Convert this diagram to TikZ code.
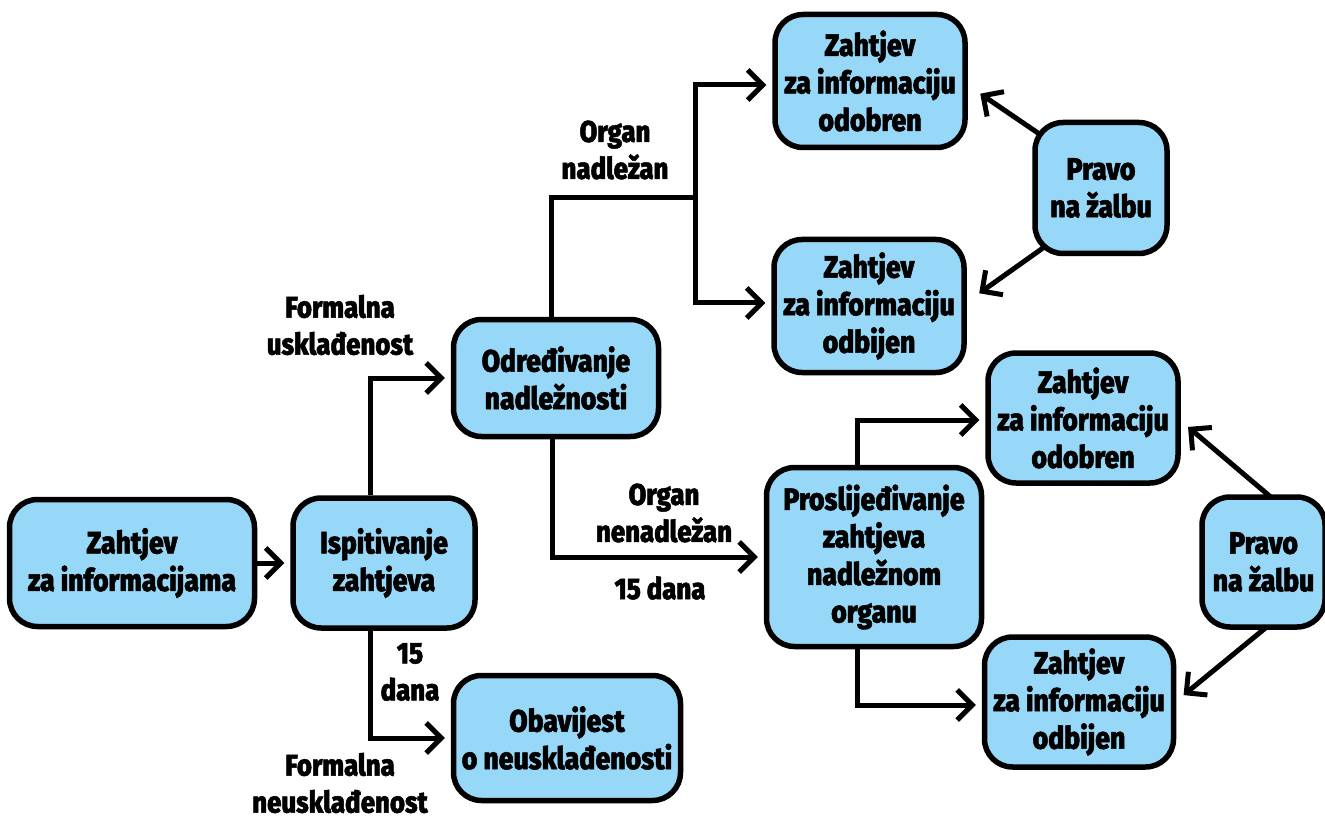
\documentclass[tikz,border=0pt]{standalone}
\usepackage{fontspec}
\newfontfamily\condfont[FakeStretch=0.86, BoldFont={Fira Sans ExtraBold}, BoldFeatures={FakeBold=1.6}]{Fira Sans}
\usetikzlibrary{arrows.meta,calc,backgrounds}
\definecolor{boxblue}{HTML}{97D7F7}
\tikzset{
  box/.style={draw=black, fill=boxblue, line width=5.5pt, rounded corners=28pt,
    align=center, inner sep=0pt,
    font=\condfont\bfseries\fontsize{31}{37.5}\selectfont},
  lbl/.style={align=center, inner sep=0pt,
    font=\condfont\bfseries\fontsize{30}{37}\selectfont},
  conn/.style={line width=5pt},
  arr/.style={line width=5pt, -{Straight Barb[length=15pt,width=30pt]}, shorten >=6pt},
}
\begin{document}
\begin{tikzpicture}[x=1pt,y=-1pt]
\useasboundingbox (0,0) rectangle (1325,818);

% process boxes
\node[box, minimum width=245pt, minimum height=127pt] (za) at (132,563) {Zahtjev\\za informacijama};
\node[box, minimum width=182pt, minimum height=130pt] (isp) at (384,563) {Ispitivanje\\zahtjeva};
\node[box, minimum width=205pt, minimum height=117pt] (odr) at (556,378) {Određivanje\\nadležnosti};
\node[box, minimum width=227pt, minimum height=125pt] (obav) at (567,738) {Obavijest\\o neusklađenosti};
\node[box, minimum width=215pt, minimum height=179pt] (pro) at (874,557) {Proslijeđivanje\\zahtjeva\\nadležnom\\organu};

% outcomes of the competent body
\node[box, minimum width=190pt, minimum height=133pt] (ou) at (870,81) {Zahtjev\\za informaciju\\odobren};
\node[box, minimum width=190pt, minimum height=133pt] (ob) at (869,306) {Zahtjev\\za informaciju\\odbijen};
\node[box, minimum width=132pt, minimum height=131pt] (pu) at (1101,188) {Pravo\\na žalbu};

% outcomes after forwarding
\node[box, minimum width=190pt, minimum height=130pt] (lo) at (1083,418) {Zahtjev\\za informaciju\\odobren};
\node[box, minimum width=189pt, minimum height=130pt] (lb) at (1079,702) {Zahtjev\\za informaciju\\odbijen};
\node[box, minimum width=123pt, minimum height=130pt] (pl) at (1263.5,562) {Pravo\\na žalbu};

% branch labels
\node[lbl] (l1) at (340,325) {Formalna\\usklađenost};
\node[lbl] (l2) at (410,672) {15\\dana};
\node[lbl] (l3) at (340,783) {Formalna\\neusklađenost};
\node[lbl] (l4) at (615,150) {Organ\\nadležan};
\node[lbl] (l5) at (664,513) {Organ\\nenadležan};
\node[lbl] (l6) at (660,588) {15 dana};

\coordinate (split) at (695,198);

\begin{scope}[on background layer]
  \draw[arr] (za.east) -- (isp.west);
  \draw[arr] ($(isp.north)+(-14,0)$) |- (odr.west);
  \draw[arr] ($(isp.south)+(-14,0)$) |- (obav.west);
  \draw[arr] ($(odr.south)+(-4,0)$) |- (pro.west);
  \draw[conn] ($(odr.north)+(-5,0)$) |- (split);
  \draw[arr] (split) |- ($(ou.west)+(0,4)$);
  \draw[arr] (split) |- ($(ob.west)+(0,-3)$);
  \draw[arr] ($(pro.north)+(-17,0)$) |- ($(lo.west)+(0,2)$);
  \draw[arr] ($(pro.south)+(-17,0)$) |- ($(lb.west)+(0,3)$);
  \draw[arr, shorten >=3pt] ($(pu.north west)+(20,23)$) -- ($(ou.east)+(10,11)$);
  \draw[arr, shorten >=3pt] ($(pu.south west)+(23,-17)$) -- ($(ob.east)+(10,-11)$);
  \draw[arr, shorten >=3pt] ($(pl.north west)+(80,10)$) -- ($(lo.east)+(5,7)$);
  \draw[arr, shorten >=3pt] ($(pl.south west)+(75,-9)$) -- ($(lb.east)+(5,-5)$);
\end{scope}
\end{tikzpicture}
\end{document}
